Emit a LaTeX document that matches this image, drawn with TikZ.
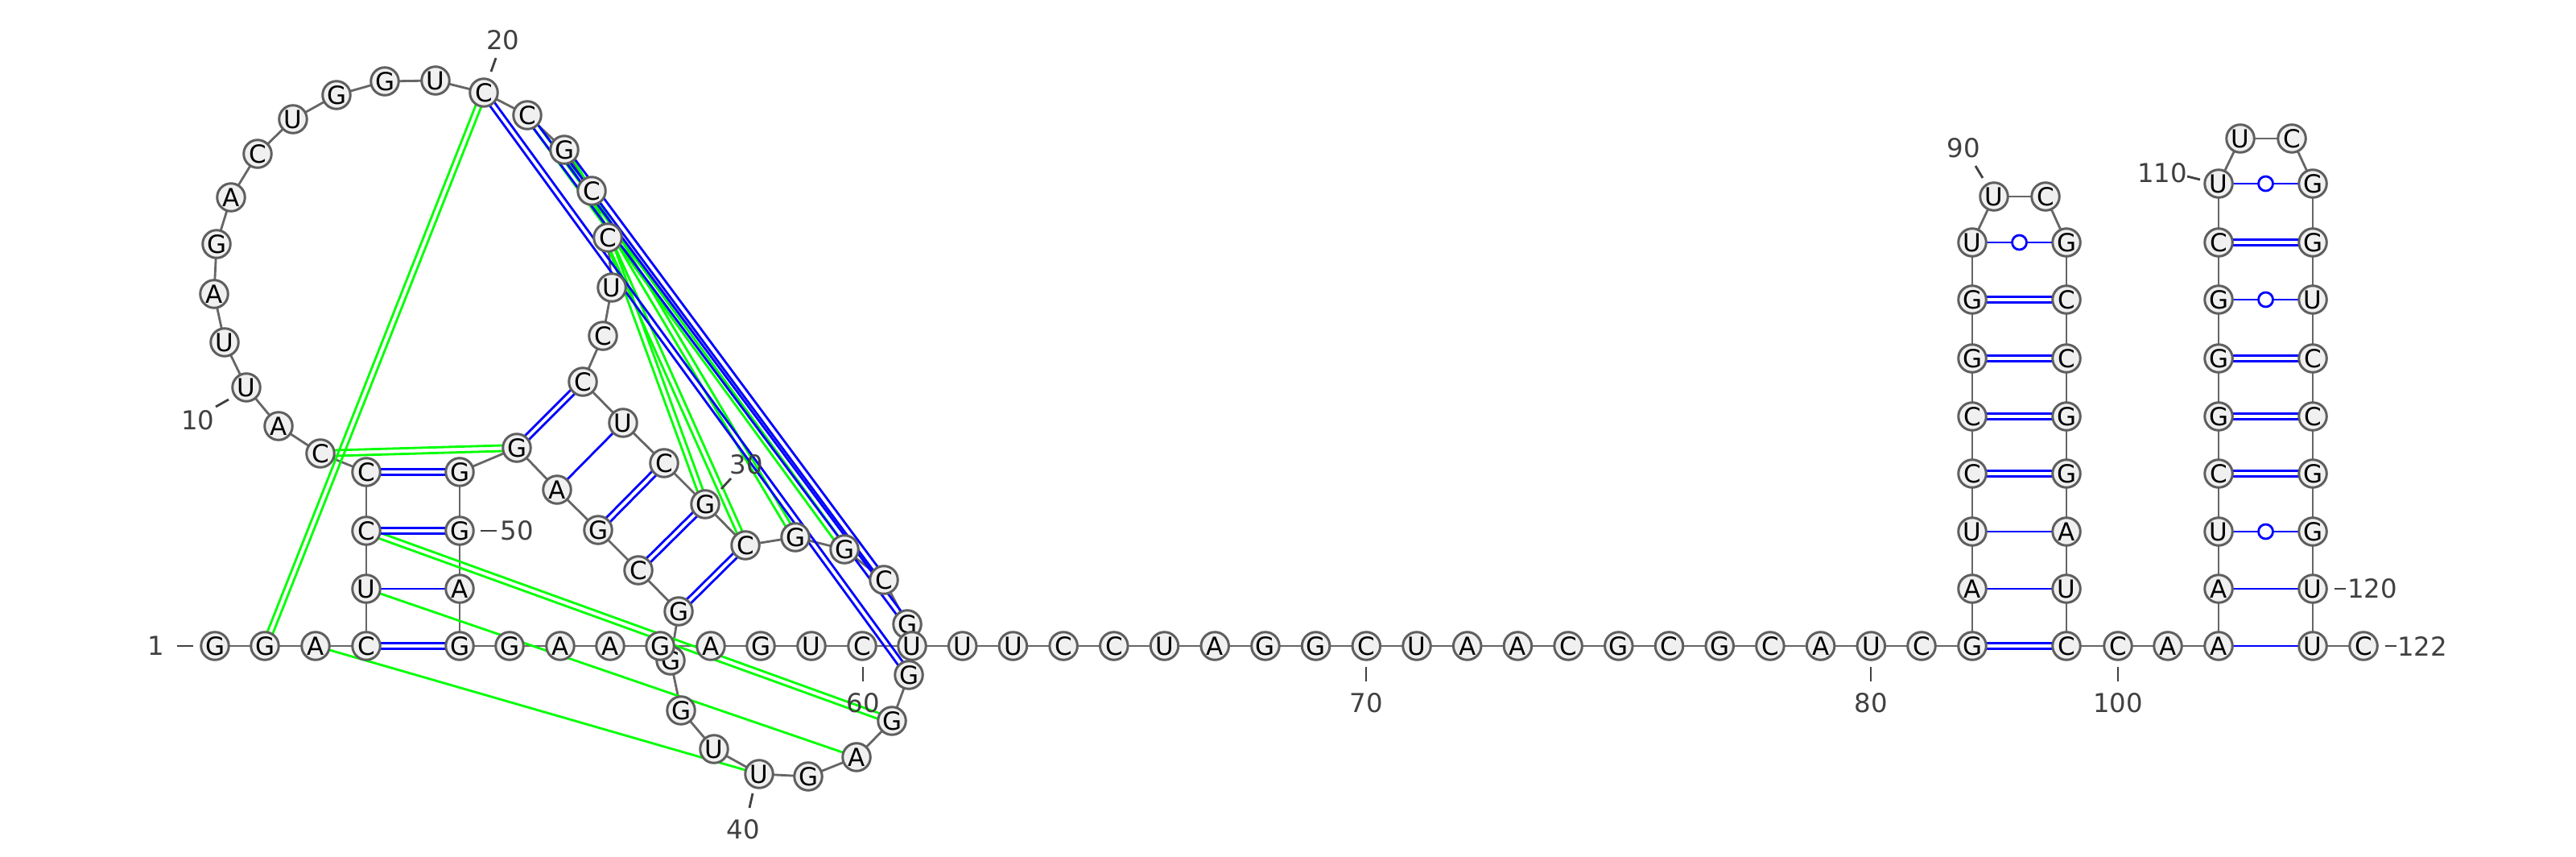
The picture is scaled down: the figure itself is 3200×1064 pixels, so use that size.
\documentclass[tikz,border=0pt]{standalone}
\usepackage{fontspec}
\setmainfont{DejaVu Sans}
\usetikzlibrary{calc}
\pgfdeclarelayer{bottomlayer}
\pgfdeclarelayer{background}
\pgfsetlayers{bottomlayer,background,main}
\definecolor{pblue}{RGB}{0,0,255}
\definecolor{pgreen}{RGB}{0,255,0}
\definecolor{bbgray}{RGB}{102,102,102}
\definecolor{ntfill}{RGB}{240,240,240}
\definecolor{ntdraw}{RGB}{95,95,95}
\definecolor{lblgray}{RGB}{64,64,64}
\tikzset{
 nt/.style={circle, draw=ntdraw, fill=ntfill, line width=0.85pt, minimum size=0.345cm, inner sep=0pt, font=\fontsize{8.8}{10}\selectfont},
 bb/.style={draw=bbgray, line width=0.8pt},
 bluep/.style={draw=pblue, line width=0.8pt},
 greenp/.style={draw=pgreen, line width=0.8pt},
 wob/.style={circle, draw=pblue, fill=white, line width=0.8pt, minimum size=0.18cm, inner sep=0pt},
 lbl/.style={text=lblgray, font=\fontsize{9.2}{10}\selectfont, inner sep=0pt},
 tickline/.style={draw=lblgray, line width=0.8pt},
}
\newcommand{\bpdbl}[3]{%
  \draw[#1] ($(#2.center)!1pt!90:(#3.center)$) -- ($(#3.center)!1pt!-90:(#2.center)$);
  \draw[#1] ($(#2.center)!1pt!-90:(#3.center)$) -- ($(#3.center)!1pt!90:(#2.center)$);}
\newcommand{\bpone}[3]{\draw[#1] (#2.center) -- (#3.center);}
\newcommand{\bpwob}[2]{\draw[bluep] (#1.center) -- (#2.center);
  \node[wob] (w#1#2) at ($(#1.center)!0.5!(#2.center)$) {};}
\begin{document}
\begin{tikzpicture}[x=0.01cm,y=-0.01cm]
\begin{pgfonlayer}{bottomlayer}
\fill[white] (0,0) rectangle (3200,1064);
\end{pgfonlayer}
\useasboundingbox (0,0) rectangle (3200,1064);
% nucleotides
\node[nt] (n1) at (267,802) {G};
\node[nt] (n2) at (329,802) {G};
\node[nt] (n3) at (392,802) {A};
\node[nt] (n4) at (455,802) {C};
\node[nt] (n5) at (455,731) {U};
\node[nt] (n6) at (455,659) {C};
\node[nt] (n7) at (455,586) {C};
\node[nt] (n8) at (398,563) {C};
\node[nt] (n9) at (346,529) {A};
\node[nt] (n10) at (306,481) {U};
\node[nt] (n11) at (279,425) {U};
\node[nt] (n12) at (266,365) {A};
\node[nt] (n13) at (269,303) {G};
\node[nt] (n14) at (287,245) {A};
\node[nt] (n15) at (320,191) {C};
\node[nt] (n16) at (364,148) {U};
\node[nt] (n17) at (418,118) {G};
\node[nt] (n18) at (478,101) {G};
\node[nt] (n19) at (541,100) {U};
\node[nt] (n20) at (601,115) {C};
\node[nt] (n21) at (655,143) {C};
\node[nt] (n22) at (701,186) {G};
\node[nt] (n23) at (735,237) {C};
\node[nt] (n24) at (755,295) {C};
\node[nt] (n25) at (760,357) {U};
\node[nt] (n26) at (749,417) {C};
\node[nt] (n27) at (724,474) {C};
\node[nt] (n28) at (774,525) {U};
\node[nt] (n29) at (825,575) {C};
\node[nt] (n30) at (876,626) {G};
\node[nt] (n31) at (926,677) {C};
\node[nt] (n32) at (988,667) {G};
\node[nt] (n33) at (1049,682) {G};
\node[nt] (n34) at (1098,720) {C};
\node[nt] (n35) at (1127,775) {G};
\node[nt] (n36) at (1129,838) {G};
\node[nt] (n37) at (1108,895) {G};
\node[nt] (n38) at (1064,940) {A};
\node[nt] (n39) at (1004,964) {G};
\node[nt] (n40) at (943,961) {U};
\node[nt] (n41) at (887,930) {U};
\node[nt] (n42) at (846,882) {G};
\node[nt] (n43) at (833,820) {G};
\node[nt] (n44) at (843,759) {G};
\node[nt] (n45) at (793,708) {C};
\node[nt] (n46) at (743,658) {G};
\node[nt] (n47) at (692,608) {A};
\node[nt] (n48) at (642,556) {G};
\node[nt] (n49) at (571,586) {G};
\node[nt] (n50) at (571,659) {G};
\node[nt] (n51) at (571,731) {A};
\node[nt] (n52) at (571,802) {G};
\node[nt] (n53) at (633,802) {G};
\node[nt] (n54) at (696,802) {A};
\node[nt] (n55) at (758,802) {A};
\node[nt] (n56) at (820,802) {G};
\node[nt] (n57) at (883,802) {A};
\node[nt] (n58) at (945,802) {G};
\node[nt] (n59) at (1008,802) {U};
\node[nt] (n60) at (1071,802) {C};
\node[nt] (n61) at (1133,802) {U};
\node[nt] (n62) at (1195.7,802) {U};
\node[nt] (n63) at (1258.4,802) {U};
\node[nt] (n64) at (1321.1,802) {C};
\node[nt] (n65) at (1383.8,802) {C};
\node[nt] (n66) at (1446.5,802) {U};
\node[nt] (n67) at (1509.2,802) {A};
\node[nt] (n68) at (1571.9,802) {G};
\node[nt] (n69) at (1634.6,802) {G};
\node[nt] (n70) at (1697.3,802) {C};
\node[nt] (n71) at (1760,802) {U};
\node[nt] (n72) at (1822.7,802) {A};
\node[nt] (n73) at (1885.4,802) {A};
\node[nt] (n74) at (1948.1,802) {C};
\node[nt] (n75) at (2010.8,802) {G};
\node[nt] (n76) at (2073.5,802) {C};
\node[nt] (n77) at (2136.2,802) {G};
\node[nt] (n78) at (2198.9,802) {C};
\node[nt] (n79) at (2261.6,802) {A};
\node[nt] (n80) at (2324.3,802) {U};
\node[nt] (n81) at (2387,802) {C};
\node[nt] (n82) at (2450,802) {G};
\node[nt] (n83) at (2450,731) {A};
\node[nt] (n84) at (2450,660) {U};
\node[nt] (n85) at (2450,588) {C};
\node[nt] (n86) at (2450,517) {C};
\node[nt] (n87) at (2450,445) {G};
\node[nt] (n88) at (2450,372) {G};
\node[nt] (n89) at (2450,301) {U};
\node[nt] (n90) at (2477,244) {U};
\node[nt] (n91) at (2541,244) {C};
\node[nt] (n92) at (2567,301) {G};
\node[nt] (n93) at (2567,372) {C};
\node[nt] (n94) at (2567,445) {C};
\node[nt] (n95) at (2567,517) {G};
\node[nt] (n96) at (2567,588) {G};
\node[nt] (n97) at (2567,660) {A};
\node[nt] (n98) at (2567,731) {U};
\node[nt] (n99) at (2567,802) {C};
\node[nt] (n100) at (2631,802) {C};
\node[nt] (n101) at (2693,802) {A};
\node[nt] (n102) at (2756,802) {A};
\node[nt] (n103) at (2756,731) {A};
\node[nt] (n104) at (2756,660) {U};
\node[nt] (n105) at (2756,588) {C};
\node[nt] (n106) at (2756,517) {G};
\node[nt] (n107) at (2756,445) {G};
\node[nt] (n108) at (2756,372) {G};
\node[nt] (n109) at (2756,301) {C};
\node[nt] (n110) at (2756,228) {U};
\node[nt] (n111) at (2783,172) {U};
\node[nt] (n112) at (2847,172) {C};
\node[nt] (n113) at (2873,228) {G};
\node[nt] (n114) at (2873,301) {G};
\node[nt] (n115) at (2873,372) {U};
\node[nt] (n116) at (2873,445) {C};
\node[nt] (n117) at (2873,517) {C};
\node[nt] (n118) at (2873,588) {G};
\node[nt] (n119) at (2873,660) {G};
\node[nt] (n120) at (2873,731) {U};
\node[nt] (n121) at (2873,802) {U};
\node[nt] (n122) at (2936,802) {C};
% labels
\node[lbl] (l1) at (194,802) {1};
\node[lbl] (l10) at (246,522) {10};
\node[lbl] (l20) at (625,50) {20};
\node[lbl] (l30) at (927,577) {30};
\node[lbl] (l40) at (923,1030) {40};
\node[lbl] (l50) at (642,659) {50};
\node[lbl] (l60) at (1072,873) {60};
\node[lbl] (l70) at (1697,873) {70};
\node[lbl] (l80) at (2324,873) {80};
\node[lbl] (l90) at (2439,184) {90};
\node[lbl] (l100) at (2631,873) {100};
\node[lbl] (l110) at (2686,215) {110};
\node[lbl] (l120) at (2947,731) {120};
\node[lbl] (l122) at (3009,802) {122};
\coordinate (t1a) at (220,802); \coordinate (t1b) at (240,802);
\coordinate (t10a) at (268,505); \coordinate (t10b) at (284,496);
\coordinate (t20a) at (610,89); \coordinate (t20b) at (616,72);
\coordinate (t30a) at (896,607); \coordinate (t30b) at (908,594);
\coordinate (t40a) at (935,985); \coordinate (t40b) at (931,1003);
\coordinate (t50a) at (597,659); \coordinate (t50b) at (617,659);
\coordinate (t60a) at (1072,828); \coordinate (t60b) at (1072,846);
\coordinate (t70a) at (1697,828); \coordinate (t70b) at (1697,846);
\coordinate (t80a) at (2324,828); \coordinate (t80b) at (2324,846);
\coordinate (t90a) at (2454,206); \coordinate (t90b) at (2463,221);
\coordinate (t100a) at (2631,828); \coordinate (t100b) at (2631,846);
\coordinate (t110a) at (2717,219); \coordinate (t110b) at (2733,223);
\coordinate (t120a) at (2900,731); \coordinate (t120b) at (2914,731);
\coordinate (t122a) at (2963,802); \coordinate (t122b) at (2977,802);
\foreach \k in {1,10,20,30,40,50,60,70,80,90,100,110,120,122} {\draw[tickline] (t\k a) -- (t\k b);}
% connectors
\begin{pgfonlayer}{background}
\foreach \i in {1,...,121} {\pgfmathtruncatemacro\j{\i+1}\draw[bb] (n\i.center) -- (n\j.center);}
% green interactions
\bpdbl{greenp}{n20}{n2}
\bpdbl{greenp}{n8}{n48}
\bpdbl{greenp}{n6}{n37}
\bpone{greenp}{n5}{n38}
\bpone{greenp}{n3}{n40}
\bpdbl{greenp}{n21}{n33}
\bpdbl{greenp}{n22}{n32}
\bpdbl{greenp}{n24}{n31}
\bpdbl{greenp}{n24}{n30}
% blue pairs
\bpdbl{bluep}{n4}{n52}
\bpone{bluep}{n5}{n51}
\bpdbl{bluep}{n6}{n50}
\bpdbl{bluep}{n7}{n49}
\bpdbl{bluep}{n27}{n48}
\bpone{bluep}{n28}{n47}
\bpdbl{bluep}{n29}{n46}
\bpdbl{bluep}{n30}{n45}
\bpdbl{bluep}{n31}{n44}
\bpdbl{bluep}{n20}{n36}
\bpdbl{bluep}{n21}{n35}
\bpdbl{bluep}{n22}{n34}
\bpdbl{bluep}{n82}{n99}
\bpone{bluep}{n83}{n98}
\bpone{bluep}{n84}{n97}
\bpdbl{bluep}{n85}{n96}
\bpdbl{bluep}{n86}{n95}
\bpdbl{bluep}{n87}{n94}
\bpdbl{bluep}{n88}{n93}
\bpwob{n89}{n92}
\bpone{bluep}{n102}{n121}
\bpone{bluep}{n103}{n120}
\bpwob{n104}{n119}
\bpdbl{bluep}{n105}{n118}
\bpdbl{bluep}{n106}{n117}
\bpdbl{bluep}{n107}{n116}
\bpwob{n108}{n115}
\bpdbl{bluep}{n109}{n114}
\bpwob{n110}{n113}
\end{pgfonlayer}
\end{tikzpicture}
\end{document}
